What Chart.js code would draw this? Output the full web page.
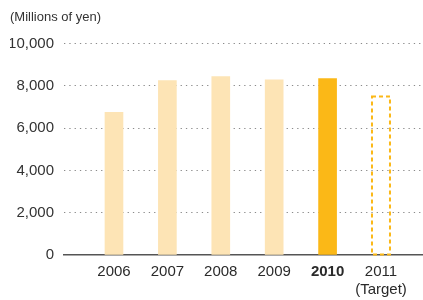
<!DOCTYPE html>
<html>
<head>
<meta charset="utf-8">
<script src="https://cdn.jsdelivr.net/npm/chart.js@4/dist/chart.umd.min.js"></script>
<style>
html,body{margin:0;padding:0;background:#fff;}
#wrap{width:423px;height:300px;}
</style>
</head>
<body>
<div id="wrap"><canvas id="c" width="423" height="300"></canvas></div>
<script>
const years = ['2006', '2007', '2008', '2009', '2010', ['2011', '(Target)']];
const sales = [6750, 8250, 8440, 8290, 8340, null];
const target = [null, null, null, null, null, 7500];
const yTicks = [0, 2000, 4000, 6000, 8000, 10000];
const unitLabel = '(Millions of yen)';

const FONT = '"Liberation Sans", Arial, Helvetica, sans-serif';
const TEXT = '#333333';
const LIGHT = '#FDE4B5';
const STRONG = '#FBB817';

const dashedTarget = {
  id: 'dashedTarget',
  afterDatasetsDraw(chart) {
    const meta = chart.getDatasetMeta(1);
    const ctx = chart.ctx;
    meta.data.forEach((el, i) => {
      if (target[i] == null) return;
      const p = el.getProps(['x', 'y', 'base', 'width'], true);
      ctx.save();
      ctx.strokeStyle = STRONG;
      ctx.lineWidth = 2;
      ctx.setLineDash([4, 3]);
      ctx.strokeRect(p.x - p.width / 2, p.y, p.width, p.base - p.y);
      ctx.restore();
    });
  }
};

new Chart(document.getElementById('c'), {
  type: 'bar',
  data: {
    datasets: [
      {
        data: sales.map((v, i) => ({ x: i, y: v })),
        backgroundColor: sales.map((v, i) => i === 4 ? STRONG : LIGHT),
        borderWidth: 0,
        barThickness: 18,
        grouped: false
      },
      {
        data: target.map((v, i) => ({ x: i, y: v })),
        backgroundColor: 'rgba(255,255,255,0)',
        borderWidth: 0,
        barThickness: 18,
        grouped: false
      }
    ]
  },
  options: {
    responsive: false,
    animation: false,
    devicePixelRatio: 1,
    layout: { padding: { left: 10, right: 0, top: 0, bottom: 0 } },
    plugins: {
      legend: { display: false },
      tooltip: { enabled: false },
      title: {
        display: true,
        text: unitLabel,
        align: 'start',
        color: TEXT,
        font: { family: FONT, size: 13, weight: 'normal', lineHeight: 1.2 },
        padding: { top: 10, bottom: 18 }
      }
    },
    scales: {
      x: {
        type: 'linear',
        offset: false,
        min: -0.936,
        max: 5.787,
        afterBuildTicks(scale) { scale.ticks = years.map((y, i) => ({ value: i })); },
        afterFit(scale) { scale.height = 45; },
        grid: { display: false, drawTicks: false, offset: false },
        border: { display: true, color: '#555555', width: 1.5 },
        ticks: {
          autoSkip: false,
          maxRotation: 0,
          padding: 7.5,
          color: '#2a2a2a',
          callback: (v) => years[v],
          font: (ctx) => ({ family: FONT, size: 15, lineHeight: 1.2, weight: ctx.index === 4 ? 'bold' : 'normal' })
        }
      },
      y: {
        min: 0,
        max: 10000,
        afterBuildTicks(scale) { scale.ticks = yTicks.map(v => ({ value: v })); },
        afterFit(scale) { scale.width = 54; },
        grid: {
          drawTicks: false,
          color: (ctx) => ctx.tick && ctx.tick.value === 0 ? 'rgba(0,0,0,0)' : '#8a8a8a',
          lineWidth: 1
        },
        border: { display: false, dash: [1.3, 4] },
        ticks: {
          padding: 10,
          color: TEXT,
          font: { family: FONT, size: 15 },
          callback: (v) => v.toLocaleString('en-US')
        }
      }
    }
  },
  plugins: [dashedTarget]
});
</script>
</body>
</html>
